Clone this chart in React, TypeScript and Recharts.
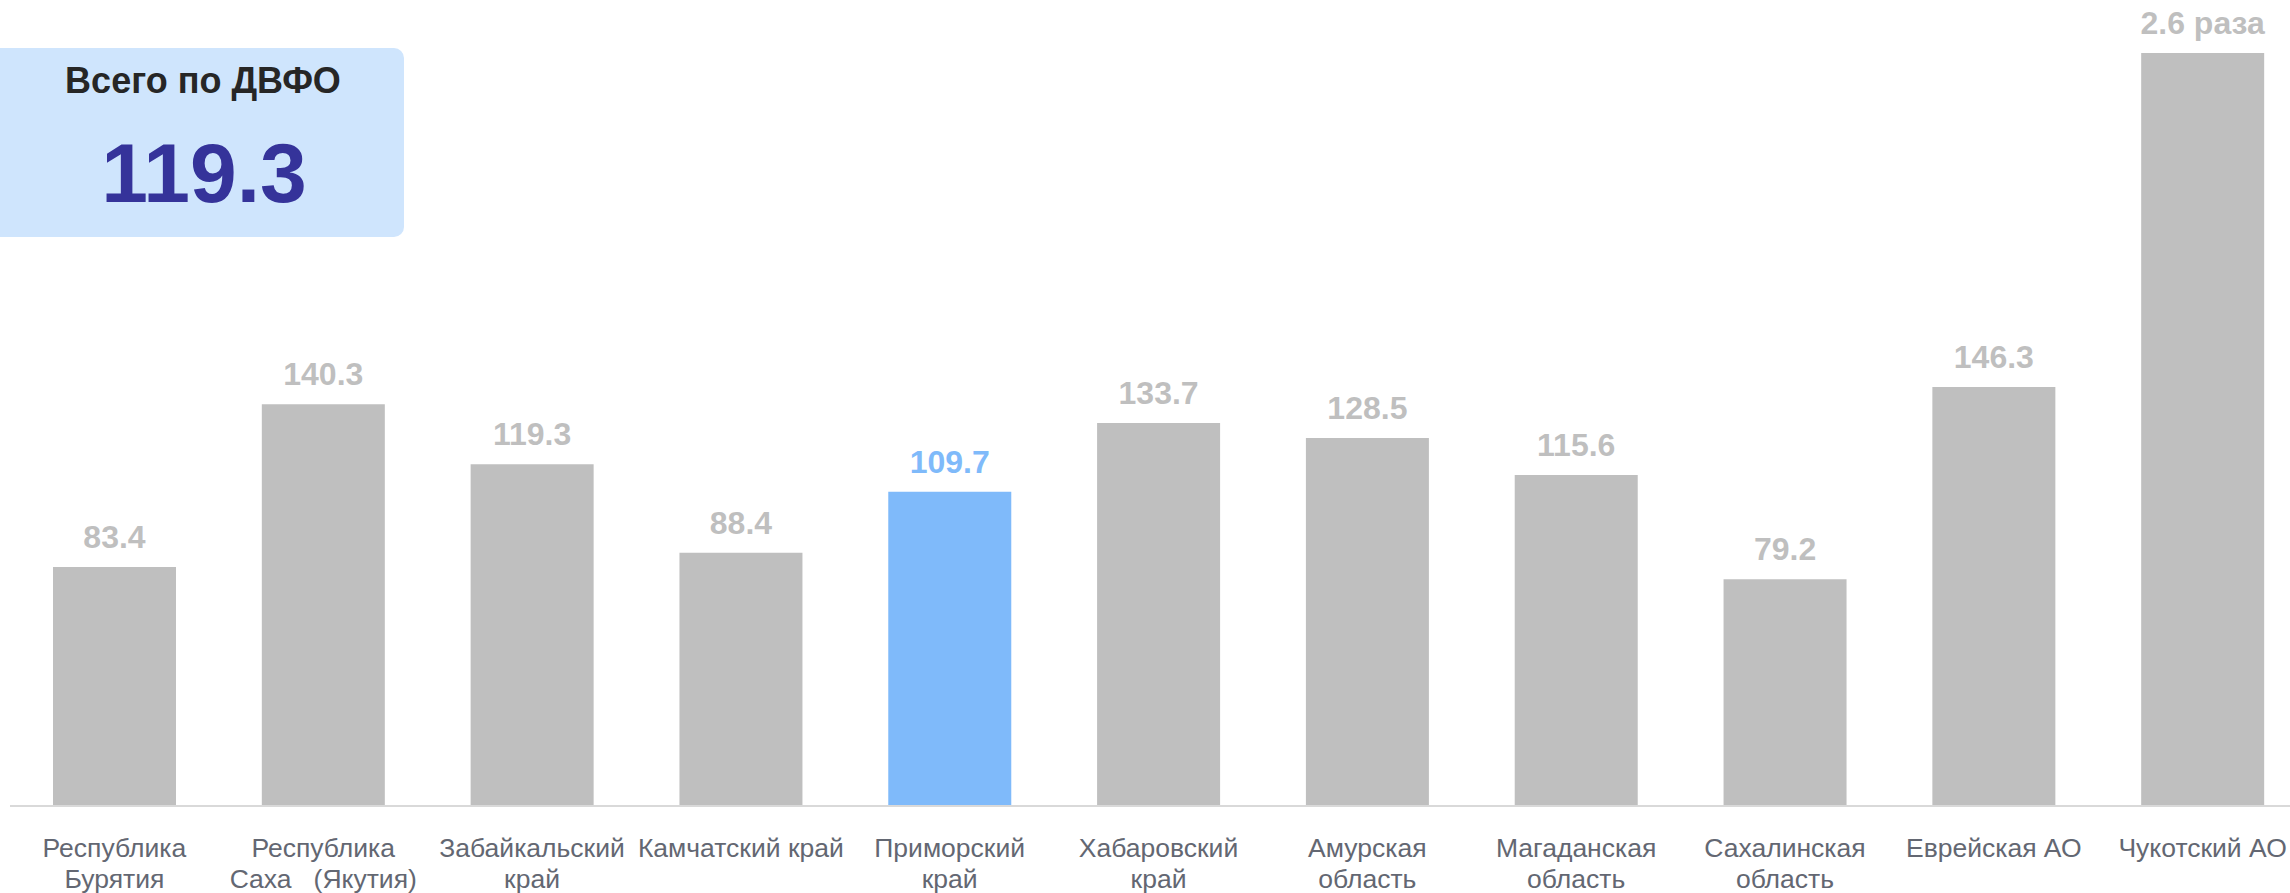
import { BarChart, Bar, XAxis, YAxis, Cell, LabelList } from 'recharts';

// Regions of the Far Eastern Federal District, split into label lines
const regionLines: string[][] = [
  ['Республика', 'Бурятия'],
  ['Республика', 'Саха   (Якутия)'],
  ['Забайкальский', 'край'],
  ['Камчатский край'],
  ['Приморский', 'край'],
  ['Хабаровский', 'край'],
  ['Амурская', 'область'],
  ['Магаданская', 'область'],
  ['Сахалинская', 'область'],
  ['Еврейская АО'],
  ['Чукотский АО'],
];

const values = [83.4, 140.3, 119.3, 88.4, 109.7, 133.7, 128.5, 115.6, 79.2, 146.3, 262.9];

const valueLabels = ['83.4', '140.3', '119.3', '88.4', '109.7', '133.7', '128.5', '115.6', '79.2', '146.3', '2.6 раза'];

const highlightIndex = 4;
const totalTitle = 'Всего по ДВФО';
const totalValue = '119.3';

const FONT = '"Liberation Sans", Arial, sans-serif';
const GRAY = '#bfbfbf';
const BLUE = '#7fbafa';

const data = regionLines.map((lines, i) => ({
  name: lines.join('|'),
  value: values[i],
  label: valueLabels[i],
}));

const RegionTick = ({ x, y, payload }: { x: number; y: number; payload: { value: string } }) => {
  const lines = String(payload.value).split('|');
  return (
    <text textAnchor="middle" fontFamily={FONT} fontSize={26.5} fill="#636772" style={{ whiteSpace: 'pre' }}>
      {lines.map((line, i) => (
        <tspan key={i} x={x} y={y + 51 + i * 31}>
          {line}
        </tspan>
      ))}
    </text>
  );
};

const ValueLabel = (props: any) => {
  const { x, y, width, index } = props;
  return (
    <text
      x={x + width / 2}
      y={y - 19}
      textAnchor="middle"
      fontFamily={FONT}
      fontSize={32}
      fontWeight="bold"
      fill={index === highlightIndex ? BLUE : GRAY}
    >
      {valueLabels[index]}
    </text>
  );
};

export default function App() {
  return (
    <div
      style={{
        position: 'absolute',
        left: 0,
        top: 0,
        width: 2290,
        height: 893,
        overflow: 'hidden',
        background: '#ffffff',
      }}
    >
      <BarChart
        width={2307}
        height={893}
        data={data}
        margin={{ top: 4, right: 0, left: 10, bottom: 0 }}
      >
        <XAxis
          dataKey="name"
          axisLine={{ stroke: '#d9d9d9', strokeWidth: 2 }}
          tickLine={false}
          tickSize={0}
          tickMargin={0}
          interval={0}
          height={87}
          tick={RegionTick as any}
        />
        <YAxis hide domain={[0, 280]} />
        <Bar dataKey="value" barSize={123} isAnimationActive={false}>
          {data.map((_, i) => (
            <Cell key={i} fill={i === highlightIndex ? BLUE : GRAY} />
          ))}
          <LabelList dataKey="label" content={ValueLabel} />
        </Bar>
      </BarChart>

      {/* Summary box in the top left corner */}
      <svg
        width={420}
        height={250}
        style={{ position: 'absolute', left: 0, top: 0 }}
      >
        <rect x={-12} y={48} width={416} height={189} rx={10} fill="#cfe5fd" />
        <text x={203} y={93} textAnchor="middle" fontFamily={FONT} fontSize={36} fontWeight="bold" fill="#262626">
          {totalTitle}
        </text>
        <text x={204} y={202} textAnchor="middle" fontFamily={FONT} fontSize={84} fontWeight="bold" fill="#35339a">
          {totalValue}
        </text>
      </svg>
    </div>
  );
}
